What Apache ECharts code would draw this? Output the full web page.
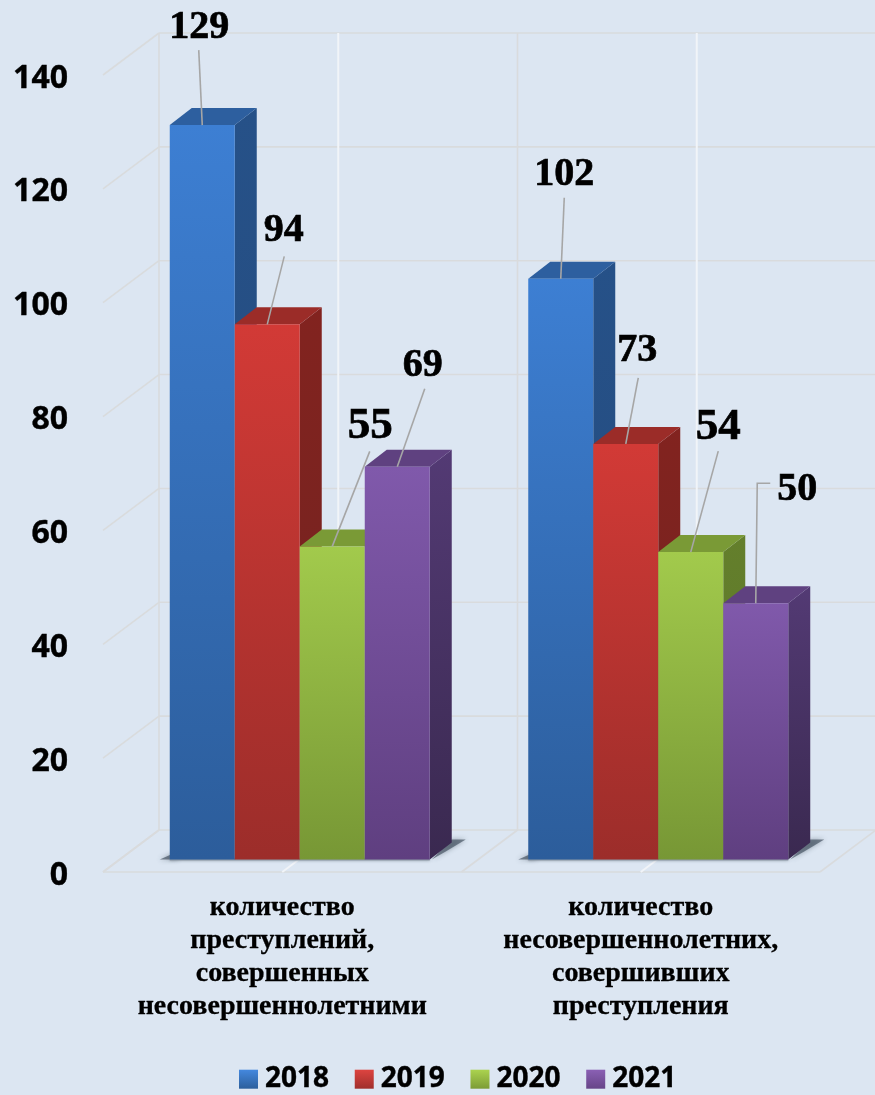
<!DOCTYPE html>
<html><head><meta charset="utf-8">
<style>html,body{margin:0;padding:0;background:#dce6f2}#c{width:875px;height:1095px}</style>
<script src="https://cdn.jsdelivr.net/npm/echarts@6/dist/echarts.min.js"></script>
</head><body><div id="c"></div>
<script>
const categories = ['количество\nпреступлений,\nсовершенных\nнесовершеннолетними','количество\nнесовершеннолетних,\nсовершивших\nпреступления'];
const years = ['2018','2019','2020','2021'];
const v2018 = [129,102];
const v2019 = [94,73];
const v2020 = [55,54];
const v2021 = [69,45];
const lab2018 = ['129','102'];
const lab2019 = ['94','73'];
const lab2020 = ['55','54'];
const lab2021 = ['69','50'];
const yTicks = [0,20,40,60,80,100,120,140];

const DEPTH=[56,-42], BAR_OFF=[17.5,-12.5], BAR_D=[22,-17], BAR_FRAC=65/358.5;
const palette=[
 {f:['#3d7fd3','#2c5d9b'],top:'#2d5f9f',s:['#265188','#244a7c'],l:['#4488de','#2c5f9c']},
 {f:['#d23a36','#9c2d2a'],top:'#9b2c28',s:['#82231f','#702321'],l:['#dd4440','#a02f2c']},
 {f:['#a2ca4c','#779735'],top:'#7a9a36',s:['#647f2c','#5a7428'],l:['#abd34f','#7c9c36']},
 {f:['#8059ab','#5f3f80'],top:'#5f4180',s:['#533a74','#3a2950'],l:['#8a60b4','#674588']}
];
const grad=c=>({type:'linear',x:0,y:0,x2:0,y2:1,colorStops:[{offset:0,color:c[0]},{offset:1,color:c[1]}]});
const valuesBy=[v2018,v2019,v2020,v2021], labelsBy=[lab2018,lab2019,lab2020,lab2021];
// label placement relative to the bar's front-top centre: line end, text centre, font size
const labelLayout=[
 [{l:[[-3.5,-75]],t:[-3,-97],s:40},{l:[[3.5,-81]],t:[3.5,-104],s:40}],
 [{l:[[17,-68]],t:[16.5,-94],s:40},{l:[[12.5,-66]],t:[11.5,-93],s:40}],
 [{l:[[37.5,-95]],t:[38,-120],s:45},{l:[[27.5,-101]],t:[27.5,-125],s:45}],
 [{l:[[27.5,-78]],t:[25.5,-101],s:40},{l:[[1.5,-120],[14.5,-120]],t:[41.5,-114],s:40}]
];
const GRID='#d9dbdd', WHITE='#f1f4f8';
const line=(a,b,c,w)=>({type:'line',shape:{x1:a[0],y1:a[1],x2:b[0],y2:b[1]},style:{stroke:c,lineWidth:w,fill:null}});

function barGeom(api,cat,si,val){
  const band=api.size([1,0])[0], w=band*BAR_FRAC;
  const c=api.coord([cat,val]), z=api.coord([cat,0]);
  const x0=c[0]+BAR_OFF[0]-2*w+si*w;
  return {x0,x1:x0+w,yT:c[1]+BAR_OFF[1],yB:z[1]+BAR_OFF[1],w};
}
function renderWalls(params,api){
  if(params.dataIndex!==0) return {type:'group',children:[]};
  const ch=[];
  const band=api.size([1,0])[0];
  const left=api.coord([0,0])[0]-band/2;
  const back=p=>[p[0]+DEPTH[0],p[1]+DEPTH[1]];
  const y0=api.coord([0,0])[1], yTop=api.coord([0,140])[1];
  yTicks.forEach(t=>{
    const y=api.coord([0,t])[1], a=[left,y], b=back(a);
    ch.push(line(a,b,GRID,1.6));
    ch.push(line(b,[left+2*band+DEPTH[0],b[1]],GRID,1.6));
  });
  ch.push(line([left,y0],[left+2*band,y0],GRID,1.6));
  [0,1,2].forEach(k=>{
    const a=[left+k*band,y0], b=back(a);
    ch.push(line(a,b,GRID,1.6));
    ch.push(line(b,[b[0],yTop+DEPTH[1]],GRID,1.6));
  });
  [0.5,1.5].forEach(k=>{
    const a=[left+k*band,y0], b=back(a);
    ch.push(line(a,b,WHITE,2));
    ch.push(line(b,[b[0],yTop+DEPTH[1]],WHITE,2));
  });
  // soft floor shadows beside each cluster
  [0,1].forEach(cat=>{
    const f=barGeom(api,cat,0,1), xl=f.x0, xr=f.x0+4*f.w, yb=f.yB;
    const st={fill:'rgba(62,76,90,0.65)',shadowBlur:5,shadowColor:'rgba(62,76,90,0.7)'};
    ch.push({type:'polygon',shape:{points:[[xl-10,yb],[xl+8,yb-8],[xl+8,yb]]},style:st});
    ch.push({type:'polygon',shape:{points:[[xr+2,yb],[xr+22,yb-20],[xr+36,yb-20],[xr+16,yb-8]]},style:st});
    ch.push({type:'rect',shape:{x:xl,y:yb-1,width:4*f.w,height:2},style:{fill:'#8d99a6',shadowBlur:3,shadowColor:'rgba(70,85,100,0.6)'}});
  });
  return {type:'group',children:ch};
}
function makeBar(si){
  return function(params,api){
    const g=barGeom(api,api.value(0),si,api.value(1)), p=palette[si], d=BAR_D;
    return {type:'group',children:[
      {type:'polygon',shape:{points:[[g.x1,g.yT],[g.x1+d[0],g.yT+d[1]],[g.x1+d[0],g.yB+d[1]],[g.x1,g.yB]]},style:{fill:grad(p.s)}},
      {type:'polygon',shape:{points:[[g.x0,g.yT],[g.x0+d[0],g.yT+d[1]],[g.x1+d[0],g.yT+d[1]],[g.x1,g.yT]]},style:{fill:p.top}},
      {type:'rect',shape:{x:g.x0,y:g.yT,width:g.w,height:g.yB-g.yT},style:{fill:grad(p.f)}}
    ]};
  };
}
function makeLabels(si){
  return function(params,api){
    const cat=api.value(0), g=barGeom(api,cat,si,api.value(1)), lay=labelLayout[si][cat];
    const ax=(g.x0+g.x1)/2, ay=g.yT;
    const pts=[[ax,ay]].concat(lay.l.map(o=>[ax+o[0],ay+o[1]]));
    return {type:'group',children:[
      {type:'polyline',shape:{points:pts},style:{stroke:'#a6a6a6',lineWidth:1.6,fill:null}},
      {type:'text',x:ax+lay.t[0],y:ay+lay.t[1],style:{text:labelsBy[si][cat],fill:'#000',stroke:'#000',lineWidth:0.7,
        font:'bold '+lay.s+'px "Liberation Serif"',textAlign:'center',textVerticalAlign:'middle'}}
    ]};
  };
}
const toData=a=>a.map((v,i)=>[i,v]);
const series=[{type:'custom',name:'walls',coordinateSystem:'cartesian2d',silent:true,z:1,
  data:yTicks.map(t=>[0,t]),encode:{x:0,y:1},renderItem:renderWalls}];
years.forEach((y,si)=>series.push({type:'custom',name:y,z:2+si,coordinateSystem:'cartesian2d',
  data:toData(valuesBy[si]),encode:{x:0,y:1},renderItem:makeBar(si),itemStyle:{color:grad(palette[si].l)}}));
years.forEach((y,si)=>series.push({type:'custom',name:'labels'+y,z:10,coordinateSystem:'cartesian2d',
  data:toData(valuesBy[si]),encode:{x:0,y:1},renderItem:makeLabels(si)}));

const chart=echarts.init(document.getElementById('c'),null,{renderer:'canvas'});
chart.setOption({
  animation:false,
  backgroundColor:'#dce6f2',
  grid:{left:103,width:717,top:75,height:797,containLabel:false},
  legend:{data:years,left:239,top:1065,padding:0,itemWidth:19,itemHeight:19,itemGap:25.5,icon:'rect',
    textStyle:{fontFamily:'Open Sans',fontWeight:'bold',fontSize:28,color:'#000',padding:[0,0,0,2],textBorderColor:'#000',textBorderWidth:0.4}},
  xAxis:{type:'category',data:categories,axisLine:{show:false},axisTick:{show:false},splitLine:{show:false},
    axisLabel:{interval:0,margin:19,fontFamily:'Liberation Serif',fontWeight:'bold',fontSize:28,lineHeight:33,color:'#000',textBorderColor:'#000',textBorderWidth:0.3}},
  yAxis:{type:'value',min:0,max:140,interval:20,axisLine:{show:false},axisTick:{show:false},splitLine:{show:false},
    axisLabel:{margin:35,verticalAlign:'top',lineHeight:7,fontFamily:'Open Sans',fontWeight:'bold',fontSize:32,color:'#000',textBorderColor:'#000',textBorderWidth:0.4}},
  series
});
</script></body></html>
